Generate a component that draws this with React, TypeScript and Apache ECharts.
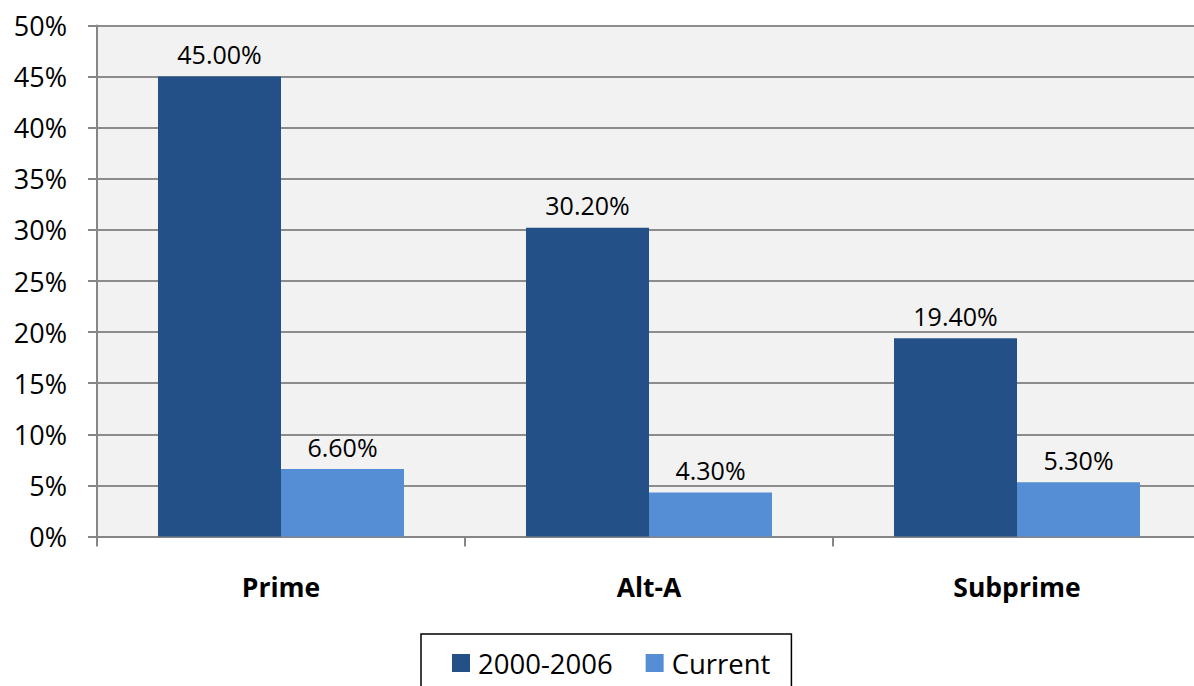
import React, { useEffect, useRef } from "react";
import * as echarts from "echarts";

const categories = ["Prime", "Alt-A", "Subprime"];
const series2000to2006 = [45.0, 30.2, 19.4];
const seriesCurrent = [6.6, 4.3, 5.3];
const seriesNames = ["2000-2006", "Current"];

const FONT = "'Open Sans', sans-serif";
const CHART_W = 1210;

export default function App() {
  const ref = useRef<HTMLDivElement>(null);
  useEffect(() => {
    if (!ref.current) return;
    const chart = echarts.init(ref.current, undefined, { renderer: "svg" });
    const label = {
      show: true,
      position: "top" as const,
      distance: 10,
      color: "#000",
      fontFamily: FONT,
      fontSize: 25,
      formatter: (p: any) => Number(p.value).toFixed(2) + "%",
    };
    chart.setOption({
      animation: false,
      backgroundColor: "#fff",
      grid: {
        left: 97,
        top: 25.5,
        right: CHART_W - 1201,
        bottom: 149.5,
        show: true,
        backgroundColor: "#F2F2F2",
        borderWidth: 0,
      },
      legend: {
        data: seriesNames,
        left: 421,
        top: 634,
        orient: "horizontal",
        itemWidth: 18,
        itemHeight: 18,
        itemGap: 33,
        icon: "rect",
        borderColor: "#000",
        borderWidth: 1.5,
        padding: [15, 21, 40, 31],
        textStyle: { fontFamily: FONT, fontSize: 27.5, color: "#000", padding: [0, 0, 0, 3] },
      },
      xAxis: {
        type: "category",
        data: categories,
        axisLine: { show: true, lineStyle: { color: "#868686", width: 2 } },
        axisTick: { show: true, length: 10, lineStyle: { color: "#868686", width: 2 } },
        axisLabel: {
          margin: 37,
          fontFamily: FONT,
          fontWeight: "bold",
          fontSize: 26.5,
          color: "#000",
        },
      },
      yAxis: {
        type: "value",
        min: 0,
        max: 50,
        interval: 5,
        axisLine: { show: true, lineStyle: { color: "#868686", width: 2 } },
        axisTick: { show: true, inside: false, length: 9, lineStyle: { color: "#868686", width: 2 } },
        splitLine: { show: true, lineStyle: { color: "#8c8c8c", width: 2 } },
        axisLabel: {
          margin: 30,
          fontFamily: FONT,
          fontSize: 27,
          color: "#000",
          formatter: "{value}%",
        },
      },
      series: [
        {
          name: seriesNames[0],
          type: "bar",
          data: series2000to2006,
          barWidth: 123,
          barGap: "0%",
          itemStyle: { color: "#235087" },
          label,
        },
        {
          name: seriesNames[1],
          type: "bar",
          data: seriesCurrent,
          barWidth: 123,
          barGap: "0%",
          itemStyle: { color: "#558ED5" },
          label,
        },
      ],
    });
    return () => chart.dispose();
  }, []);
  return (
    <div
      style={{ position: "fixed", left: 0, top: 0, width: 1194, height: 686, overflow: "hidden", background: "#fff" }}
    >
      <div ref={ref} style={{ width: CHART_W, height: 686 }} />
    </div>
  );
}
